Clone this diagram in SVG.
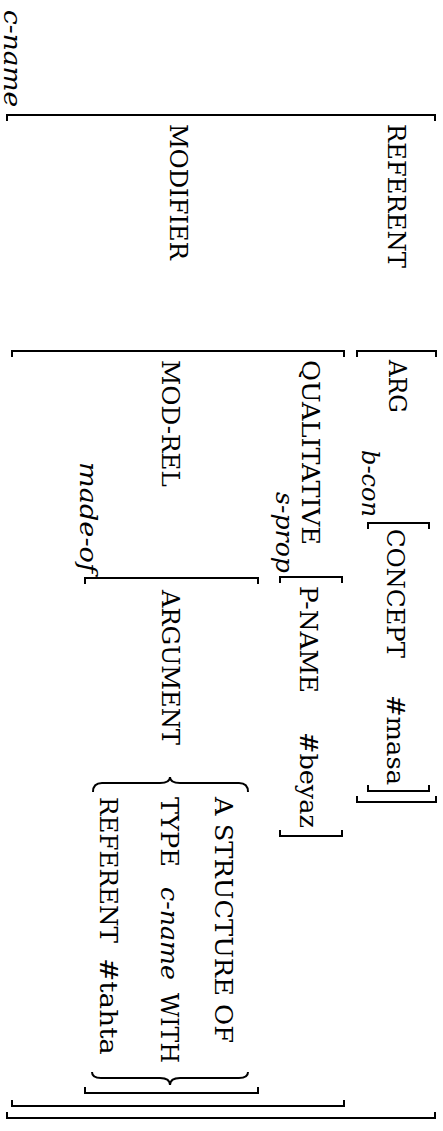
<svg xmlns="http://www.w3.org/2000/svg" width="443" height="1131" viewBox="0 0 443 1131">
<style>
text{font-family:"DejaVu Serif",serif;font-size:25px;fill:#000}
.it{font-style:italic}
.br{fill:none;stroke:#000;stroke-width:2}
</style>
<rect width="443" height="1131" fill="#fff"/>
<g id="brackets">
<path class="br" d="M7,121 V115 H435 V121"/>
<path class="br" d="M7,1112 V1118 H435 V1112"/>
<path class="br" d="M12,357 V351 H344 V357"/>
<path class="br" d="M12,1100 V1106 H344 V1100"/>
<path class="br" d="M357,357 V351 H436 V357"/>
<path class="br" d="M357,796 V802 H436 V796"/>
<path class="br" d="M368,529 V523 H429 V529"/>
<path class="br" d="M368,785 V791 H429 V785"/>
<path class="br" d="M280,583 V577 H342 V583"/>
<path class="br" d="M280,830 V836 H342 V830"/>
<path class="br" d="M85,584 V578 H258 V584"/>
<path class="br" d="M85,1087 V1093 H258 V1087"/>
<path class="br" d="M93,792 Q93,783 102,783 H160 Q170,783 170,777 Q170,783 180,783 H239 Q248,783 248,792"/>
<path class="br" d="M92,1072 Q92,1078 101,1078 H160 Q170,1078 170,1085 Q170,1078 180,1078 H239 Q248,1078 248,1072"/>
</g>
<g id="outer">
<text class="it" transform="translate(4,10) rotate(90)" font-size="23" textLength="97" lengthAdjust="spacingAndGlyphs">c-name</text>
<text transform="translate(388,124) rotate(90)" textLength="144" lengthAdjust="spacingAndGlyphs">REFERENT</text>
<text transform="translate(170,124) rotate(90)" textLength="136" lengthAdjust="spacingAndGlyphs">MODIFIER</text>
</g>
<g id="referent">
<text transform="translate(389,360) rotate(90)" textLength="53" lengthAdjust="spacingAndGlyphs">ARG</text>
<text class="it" transform="translate(362,450) rotate(90)" textLength="67" lengthAdjust="spacingAndGlyphs">b-con</text>
<text transform="translate(387,529) rotate(90)" textLength="129" lengthAdjust="spacingAndGlyphs">CONCEPT</text>
<text transform="translate(387,695) rotate(90)" textLength="90" lengthAdjust="spacingAndGlyphs">#masa</text>
</g>
<g id="modifier">
<text transform="translate(302,360) rotate(90)" textLength="185" lengthAdjust="spacingAndGlyphs">QUALITATIVE</text>
<text class="it" transform="translate(276,492) rotate(90)" textLength="81" lengthAdjust="spacingAndGlyphs">s-prop</text>
<text transform="translate(300,586) rotate(90)" textLength="107" lengthAdjust="spacingAndGlyphs">P-NAME</text>
<text transform="translate(300,732) rotate(90)" textLength="96" lengthAdjust="spacingAndGlyphs">#beyaz</text>
<text transform="translate(162,360) rotate(90)" textLength="127" lengthAdjust="spacingAndGlyphs">MOD-REL</text>
<text class="it" transform="translate(80,462) rotate(90)" textLength="111" lengthAdjust="spacingAndGlyphs">made-of</text>
<text transform="translate(162,590) rotate(90)" textLength="155" lengthAdjust="spacingAndGlyphs">ARGUMENT</text>
</g>
<g id="argument">
<text transform="translate(215,797) rotate(90)" textLength="246" lengthAdjust="spacingAndGlyphs">A STRUCTURE OF</text>
<text transform="translate(161,797) rotate(90)" textLength="70" lengthAdjust="spacingAndGlyphs">TYPE</text>
<text class="it" transform="translate(161,887) rotate(90)" textLength="93" lengthAdjust="spacingAndGlyphs">c-name</text>
<text transform="translate(161,993) rotate(90)" textLength="70" lengthAdjust="spacingAndGlyphs">WITH</text>
<text transform="translate(100,797) rotate(90)" textLength="146" lengthAdjust="spacingAndGlyphs">REFERENT</text>
<text transform="translate(100,958) rotate(90)" textLength="97" lengthAdjust="spacingAndGlyphs">#tahta</text>
</g>
</svg>
